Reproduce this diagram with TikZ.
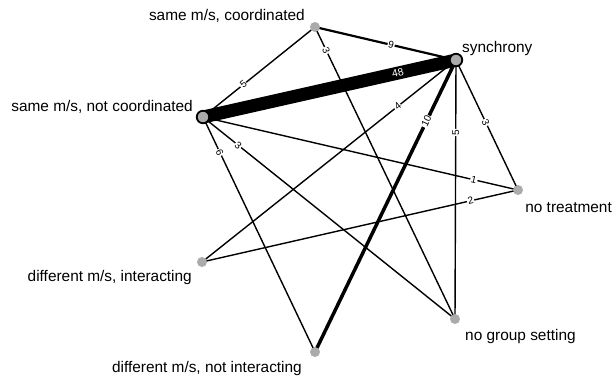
\documentclass[tikz,border=0pt]{standalone}
\usepackage{fontspec}
\setmainfont{Liberation Sans}
\usetikzlibrary{backgrounds}
\definecolor{nodegray}{HTML}{ABABAB}
\tikzset{
  x=1pt, y=-1pt,
  bignode/.style={circle, fill=nodegray, draw=black, line width=1.8pt, minimum size=12.5pt, inner sep=0pt},
  smallnode/.style={circle, fill=nodegray, minimum size=10pt, inner sep=0pt},
  txt/.style={inner sep=0pt, font=\fontsize{15.4}{17}\selectfont},
  edge/.style={draw=black, line width=1.4pt},
  lab/.style={sloped, fill=white, inner sep=0.8pt, font=\fontsize{10}{10}\selectfont},
}
\begin{document}
\begin{tikzpicture}
\useasboundingbox (0,0) rectangle (615,380);
% nodes
\node[smallnode] (SC) at (315,27) {};
\node[bignode]   (SY) at (456,60) {};
\node[bignode]   (SN) at (203,117) {};
\node[smallnode] (NT) at (518,190) {};
\node[smallnode] (DI) at (202,262) {};
\node[smallnode] (NG) at (455,319) {};
\node[smallnode] (DN) at (315,352) {};
% texts
\node[txt, anchor=east] (tSC) at (305,16) {same m/s, coordinated};
\node[txt, anchor=west] (tSY) at (462,49) {synchrony};
\node[txt, anchor=east] (tSN) at (193,107) {same m/s, not coordinated};
\node[txt, anchor=east] (tNT) at (612,208) {no treatment};
\node[txt, anchor=east] (tDI) at (192,278) {different m/s, interacting};
\node[txt, anchor=west] (tNG) at (465,337) {no group setting};
\node[txt, anchor=east] (tDN) at (302,369) {different m/s, not interacting};
% edges
\begin{scope}[on background layer]
\draw[edge, line width=2.2pt] (SC.center) -- node[lab, pos=0.54] {9} (SY.center);
\draw[edge] (SC.center) -- node[lab, pos=0.64] {5} (SN.center);
\draw[edge] (SC.center) -- node[lab, pos=0.08] {3} (NG.center);
\draw[edge, line width=13pt] (SN.center) -- node[sloped, pos=0.77, text=white, inner sep=0pt, font=\fontsize{10.5}{10}\selectfont] {48} (SY.center);
\draw[edge] (SY.center) -- node[lab, pos=0.23] {4} (DI.center);
\draw[edge, line width=3.5pt] (SY.center) -- node[lab, pos=0.21] {10} (DN.center);
\draw[edge] (SY.center) -- node[lab, pos=0.28] {5} (NG.center);
\draw[edge] (SY.center) -- node[lab, pos=0.48] {3} (NT.center);
\draw[edge] (SN.center) -- node[lab, pos=0.86] {1} (NT.center);
\draw[edge] (DI.center) -- node[lab, pos=0.85] {2} (NT.center);
\draw[edge] (SN.center) -- node[lab, pos=0.14] {3} (NG.center);
\draw[edge] (SN.center) -- node[lab, pos=0.15] {6} (DN.center);
\end{scope}
\end{tikzpicture}
\end{document}
